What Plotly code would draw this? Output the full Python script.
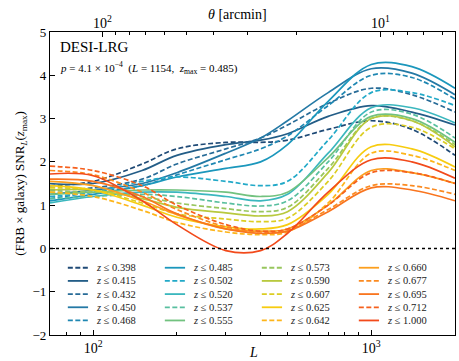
import numpy as np
import plotly.graph_objects as go

# multipole nodes
ell = [70, 100, 150, 200, 300, 400, 500, 700, 1000, 1400, 2000]

zmax = ["0.398", "0.415", "0.432", "0.450", "0.468", "0.485", "0.502",
        "0.520", "0.537", "0.555", "0.573", "0.590", "0.607", "0.625",
        "0.642", "0.660", "0.677", "0.695", "0.712", "1.000"]

snr_0398 = [1.45, 1.55, 1.95, 2.30, 2.45, 2.45, 2.50, 2.75, 2.95, 2.75, 2.15]
snr_0415 = [1.50, 1.50, 1.80, 2.15, 2.40, 2.50, 2.65, 3.05, 3.30, 3.15, 2.85]
snr_0432 = [1.35, 1.40, 1.60, 1.95, 2.30, 2.55, 2.85, 3.35, 3.70, 3.55, 3.15]
snr_0450 = [1.25, 1.35, 1.50, 1.75, 2.20, 2.55, 2.95, 3.60, 4.15, 4.05, 3.55]
snr_0468 = [1.15, 1.30, 1.45, 1.70, 2.05, 2.30, 2.60, 3.30, 4.00, 3.95, 3.45]
snr_0485 = [1.10, 1.25, 1.45, 1.65, 1.85, 2.00, 2.40, 3.40, 4.25, 4.20, 3.70]
snr_0502 = [1.20, 1.30, 1.55, 1.65, 1.55, 1.45, 1.55, 2.50, 3.60, 3.60, 3.30]
snr_0520 = [1.05, 1.20, 1.30, 1.30, 1.20, 1.10, 1.25, 2.20, 3.25, 3.25, 2.90]
snr_0537 = [1.15, 1.20, 1.25, 1.20, 1.05, 0.98, 1.10, 2.00, 3.15, 3.10, 2.55]
snr_0555 = [1.25, 1.30, 1.35, 1.35, 1.30, 1.20, 1.30, 2.10, 3.05, 3.00, 2.45]
snr_0573 = [1.30, 1.30, 1.20, 1.05, 0.92, 0.85, 0.95, 1.85, 3.00, 2.95, 2.40]
snr_0590 = [1.35, 1.35, 1.15, 0.95, 0.82, 0.75, 0.85, 1.75, 3.00, 2.95, 2.35]
snr_0607 = [1.40, 1.35, 1.05, 0.80, 0.68, 0.62, 0.70, 1.55, 2.80, 2.80, 2.30]
snr_0625 = [1.45, 1.35, 1.00, 0.72, 0.50, 0.45, 0.55, 1.25, 2.35, 2.30, 1.88]
snr_0642 = [1.30, 1.20, 0.88, 0.60, 0.38, 0.32, 0.38, 1.05, 2.20, 2.15, 1.80]
snr_0660 = [1.55, 1.45, 1.10, 0.78, 0.45, 0.40, 0.45, 1.00, 1.80, 1.75, 1.50]
snr_0677 = [1.80, 1.70, 1.30, 0.90, 0.50, 0.38, 0.42, 0.90, 1.45, 1.45, 1.25]
snr_0695 = [1.60, 1.55, 1.20, 0.80, 0.45, 0.35, 0.40, 0.85, 1.40, 1.35, 1.10]
snr_0712 = [1.90, 1.80, 1.45, 1.00, 0.55, 0.40, 0.45, 1.00, 1.75, 1.75, 1.50]
snr_1000 = [1.72, 1.68, 1.10, 0.55, -0.05, -0.05, 0.35, 1.30, 2.05, 2.00, 1.62]

series = [snr_0398, snr_0415, snr_0432, snr_0450, snr_0468, snr_0485, snr_0502,
          snr_0520, snr_0537, snr_0555, snr_0573, snr_0590, snr_0607, snr_0625,
          snr_0642, snr_0660, snr_0677, snr_0695, snr_0712, snr_1000]

colors = ["#1f4a76", "#235d87", "#276b97", "#2479a5", "#1f87b2", "#1b97bc",
          "#22a9c8", "#3bb7be", "#58bf9f", "#72c27f", "#98c65e", "#b8c93e",
          "#dccd22", "#f7cc10", "#fdb51a", "#fc9f1e", "#fb8a20", "#f9751f",
          "#f6601d", "#f24a1b"]

theta_major = [100, 10]
theta_minor = [90, 80, 70, 60, 50, 40, 30, 20, 9, 8, 7, 6]

FONT = "Liberation Serif"
DASH = "5px,2.5px"

fig = go.Figure()
for i, (z, y) in enumerate(zip(zmax, series)):
    dashed = (i % 2 == 0) and z != "1.000"
    fig.add_trace(go.Scatter(
        x=ell, y=y, mode="lines", name=f"z ≤ {z}", showlegend=False,
        line=dict(color=colors[i], width=1.7, shape="spline", smoothing=1.0,
                  dash=DASH if dashed else "solid"),
    ))

    # hand-built legend, 4 columns x 5 rows (column-major like matplotlib)
    col, row = divmod(i, 5)
    x0 = 0.044 + col * 0.2395
    yy = 0.222 - row * 0.0435
    fig.add_shape(type="line", xref="paper", yref="paper",
                  x0=x0, x1=x0 + 0.05, y0=yy, y1=yy,
                  line=dict(color=colors[i], width=1.8, dash=DASH if dashed else "solid"))
    fig.add_annotation(x=x0 + 0.065, y=yy, xref="paper", yref="paper",
                       xanchor="left", yanchor="middle", showarrow=False,
                       text=f"<i>z</i> ≤ {z}",
                       font=dict(family=FONT, size=10.5, color="#222"))

# dummy trace to carry the top theta axis
fig.add_trace(go.Scatter(x=[ell[0], ell[-1]], y=[None, None], xaxis="x2",
                         showlegend=False, hoverinfo="skip"))

fig.add_hline(y=0, line=dict(color="black", width=1.5, dash="dot"))

fig.add_annotation(x=0.02, y=0.985, xref="paper", yref="paper", xanchor="left",
                   yanchor="top", showarrow=False, text="DESI-LRG",
                   font=dict(family=FONT, size=15, color="black"))
fig.add_annotation(x=0.02, y=0.915, xref="paper", yref="paper", xanchor="left",
                   yanchor="top", showarrow=False,
                   text="<i>p</i> = 4.1 × 10<sup>−4</sup>  (<i>L</i> = 1154,  <i>z</i><sub>max</sub> = 0.485)",
                   font=dict(family=FONT, size=11, color="black"))
fig.add_annotation(x=0.462, y=1, xref="paper", yref="paper", xanchor="center",
                   yanchor="bottom", yshift=8, showarrow=False,
                   text="<i>θ</i> [arcmin]", font=dict(family=FONT, size=14, color="black"))
fig.add_annotation(x=0.503, y=0, xref="paper", yref="paper", xanchor="center",
                   yanchor="top", yshift=-8, showarrow=False,
                   text="<i>L</i>", font=dict(family=FONT, size=14, color="black"))

xr = [np.log10(70), np.log10(2000)]
fig.update_layout(
    width=459, height=361,
    margin=dict(l=50, r=4, t=32, b=26),
    paper_bgcolor="white", plot_bgcolor="white",
    font=dict(family=FONT, size=13, color="black"),
    showlegend=False,
    xaxis=dict(type="log", range=xr, showgrid=False, zeroline=False,
               showline=True, linecolor="black", linewidth=1.2, mirror=True,
               ticks="inside", ticklen=5, tickcolor="black", tickfont=dict(size=14),
               tickvals=[100, 1000], ticktext=["10<sup>2</sup>", "10<sup>3</sup>"],
               minor=dict(ticks="inside", ticklen=3, tickcolor="black",
                          tickvals=[70, 80, 90, 200, 300, 400, 500, 600, 700, 800, 900, 2000])),
    xaxis2=dict(type="log", range=xr, overlaying="x", side="top", showgrid=False,
                zeroline=False, showline=False,
                ticks="inside", ticklen=5, tickcolor="black", tickfont=dict(size=14),
                tickvals=[10800 / t for t in theta_major],
                ticktext=["10<sup>2</sup>", "10<sup>1</sup>"],
                minor=dict(ticks="inside", ticklen=3, tickcolor="black",
                           tickvals=[10800 / t for t in theta_minor])),
    yaxis=dict(range=[-2, 5], showgrid=False, zeroline=False, showline=True,
               linecolor="black", linewidth=1.2, mirror=True,
               ticks="inside", ticklen=5, tickcolor="black", dtick=1,
               title=dict(text="(FRB × galaxy) SNR<sub><i>L</i></sub>(<i>z</i><sub>max</sub>)",
                          standoff=4, font=dict(size=13))),
)

# page body has a default 8px margin; drop it so the figure sits at the window corner
fig.write_html("out.html", config={"displayModeBar": False},
               post_script="document.body.style.margin='0';")
